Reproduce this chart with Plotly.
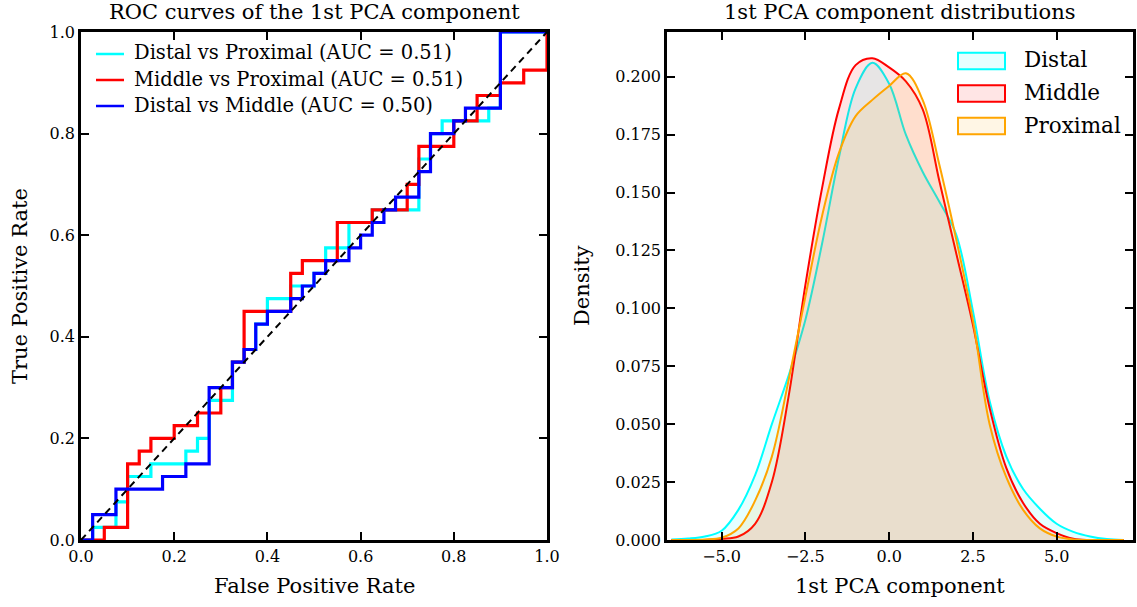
import plotly.graph_objects as go

# ---------------- ROC data (step vertices, 'hv' steps) ----------------
dp_fpr = [0, 0.025, 0.075, 0.10, 0.15, 0.225, 0.25, 0.275, 0.325, 0.35, 0.375, 0.40, 0.45, 0.50, 0.525, 0.575, 0.625, 0.725, 0.75, 0.775, 0.875, 0.90, 1.0]
dp_tpr = [0, 0.025, 0.075, 0.125, 0.15, 0.175, 0.20, 0.275, 0.35, 0.375, 0.425, 0.475, 0.50, 0.525, 0.575, 0.625, 0.65, 0.75, 0.80, 0.825, 0.85, 1.0, 1.0]

mp_fpr = [0, 0.05, 0.10, 0.125, 0.15, 0.20, 0.25, 0.30, 0.325, 0.35, 0.45, 0.475, 0.55, 0.625, 0.70, 0.725, 0.80, 0.85, 0.90, 0.95, 1.0]
mp_tpr = [0, 0.025, 0.15, 0.175, 0.20, 0.225, 0.25, 0.30, 0.35, 0.45, 0.525, 0.55, 0.625, 0.65, 0.70, 0.775, 0.825, 0.875, 0.90, 0.925, 1.0]

dm_fpr = [0, 0.025, 0.075, 0.175, 0.225, 0.275, 0.325, 0.35, 0.375, 0.40, 0.45, 0.475, 0.50, 0.525, 0.575, 0.60, 0.625, 0.65, 0.675, 0.725, 0.75, 0.80, 0.825, 0.90, 1.0]
dm_tpr = [0, 0.05, 0.10, 0.125, 0.15, 0.30, 0.35, 0.375, 0.425, 0.45, 0.475, 0.50, 0.525, 0.55, 0.575, 0.60, 0.625, 0.65, 0.675, 0.725, 0.80, 0.825, 0.85, 1.0, 1.0]

roc_labels = ["Distal vs Proximal (AUC = 0.51)",
              "Middle vs Proximal (AUC = 0.51)",
              "Distal vs Middle (AUC = 0.50)"]
roc_colors = ["#00FFFF", "#FF0000", "#0000FF"]

# ---------------- KDE data ----------------
kde_x = [-6.5, -6.0, -5.5, -5.0, -4.5, -4.0, -3.5, -3.0, -2.5, -2.0, -1.5, -1.0, -0.5,
         0.0, 0.5, 1.0, 1.5, 2.0, 2.5, 3.0, 3.5, 4.0, 4.5, 5.0, 5.5, 6.0, 6.5, 7.0]
distal_d = [0.0002, 0.0006, 0.0015, 0.004, 0.013, 0.028, 0.050, 0.071, 0.095, 0.128, 0.165, 0.195, 0.206,
            0.197, 0.175, 0.159, 0.146, 0.132, 0.099, 0.060, 0.036, 0.022, 0.0135, 0.007, 0.0035, 0.0015, 0.0004, 0.0]
middle_d = [0.0, 0.0, 0.0, 0.0005, 0.0015, 0.007, 0.025, 0.062, 0.110, 0.152, 0.186, 0.205, 0.208,
            0.204, 0.198, 0.186, 0.155, 0.124, 0.093, 0.057, 0.031, 0.016, 0.007, 0.003, 0.0005, 0.0, 0.0, 0.0]
proximal_d = [0.0, 0.0, 0.0002, 0.001, 0.005, 0.017, 0.036, 0.069, 0.105, 0.140, 0.167, 0.183, 0.190,
              0.196, 0.2015, 0.190, 0.162, 0.130, 0.095, 0.050, 0.027, 0.013, 0.005, 0.0015, 0.0002, 0.0, 0.0, 0.0]
kde_labels = ["Distal", "Middle", "Proximal"]
kde_colors = ["#00FFFF", "#FF0000", "#FFA500"]
kde_fills = ["rgba(0,255,255,0.1)", "rgba(255,0,0,0.1)", "rgba(255,165,0,0.1)"]

FONT = "DejaVu Serif"
W, H = 1137, 607


def px(x):
    return x / W


def py(y):
    return (H - y) / H


fig = go.Figure()

for fx, fy, lab, col in zip([dp_fpr, mp_fpr, dm_fpr], [dp_tpr, mp_tpr, dm_tpr], roc_labels, roc_colors):
    fig.add_trace(go.Scatter(x=fx, y=fy, mode="lines", line=dict(color=col, width=3.2, shape="hv"),
                             name=lab, xaxis="x", yaxis="y", showlegend=False))
fig.add_trace(go.Scatter(x=[0, 1], y=[0, 1], mode="lines",
                         line=dict(color="black", width=2, dash="7px,5px"),
                         showlegend=False, xaxis="x", yaxis="y"))

for dens, lab, col, fc in zip([distal_d, middle_d, proximal_d], kde_labels, kde_colors, kde_fills):
    fig.add_trace(go.Scatter(x=kde_x, y=dens, mode="lines", fill="tozeroy", fillcolor=fc,
                             line=dict(color=col, width=2, shape="spline", smoothing=1.0),
                             name=lab, xaxis="x2", yaxis="y2", showlegend=False))

ax_common = dict(showline=True, linewidth=2.5, linecolor="black", mirror="allticks",
                 ticks="inside", ticklen=8, tickwidth=1.5, tickcolor="black",
                 showgrid=False, zeroline=False, automargin=False,
                 tickfont=dict(family=FONT, size=16, color="black"))

annotations = [
    dict(text="ROC curves of the 1st PCA component", x=px(314), y=py(12)),
    dict(text="1st PCA component distributions", x=px(900), y=py(12)),
    dict(text="False Positive Rate", x=px(314), y=py(586)),
    dict(text="1st PCA component", x=px(900), y=py(586)),
    dict(text="True Positive Rate", x=px(20), y=py(286), textangle=-90),
    dict(text="Density", x=px(582), y=py(286), textangle=-90),
]
for a in annotations:
    a.update(xref="paper", yref="paper", showarrow=False, xanchor="center", yanchor="middle",
             font=dict(family=FONT, size=21, color="black"))

shapes = []
# left legend (line samples)
leg_rows = [54, 80, 106]
for lab, col, yy in zip(roc_labels, roc_colors, leg_rows):
    shapes.append(dict(type="line", xref="paper", yref="paper", x0=px(96), x1=px(124), y0=py(yy), y1=py(yy),
                       line=dict(color=col, width=2.5)))
    annotations.append(dict(text=lab, x=px(132), y=py(yy - 1), xref="paper", yref="paper", showarrow=False,
                            xanchor="left", yanchor="middle", font=dict(family=FONT, size=19.5, color="black")))
# right legend (filled patches)
leg2_rows = [61, 93.5, 126]
for lab, col, fc, yy in zip(kde_labels, kde_colors, kde_fills, leg2_rows):
    shapes.append(dict(type="rect", xref="paper", yref="paper", x0=px(958), x1=px(1005),
                       y0=py(yy - 8.3), y1=py(yy + 8.3), fillcolor=fc, line=dict(color=col, width=2)))
    annotations.append(dict(text=lab, x=px(1022), y=py(yy - 1), xref="paper", yref="paper", showarrow=False,
                            xanchor="left", yanchor="middle", font=dict(family=FONT, size=21.5, color="black")))

fig.update_layout(
    width=W, height=H,
    margin=dict(l=0, r=0, t=0, b=0),
    paper_bgcolor="white", plot_bgcolor="white",
    font=dict(family=FONT, size=16, color="black"),
    xaxis=dict(domain=[px(81), px(547)], range=[0, 1], dtick=0.2, tickformat=".1f", anchor="y", **ax_common),
    yaxis=dict(domain=[py(540), py(32)], range=[0, 1], dtick=0.2, tickformat=".1f", anchor="x", **ax_common),
    xaxis2=dict(domain=[px(667), px(1133)], range=[-6.63, 7.28], tickvals=[-5, -2.5, 0, 2.5, 5],
                tickformat=".1f", anchor="y2", **ax_common),
    yaxis2=dict(domain=[py(540), py(32)], range=[0, 0.2193], dtick=0.025, tickformat=".3f",
                anchor="x2", **ax_common),
    annotations=annotations,
    shapes=shapes,
    showlegend=False,
)

fig.write_html("out.html")
